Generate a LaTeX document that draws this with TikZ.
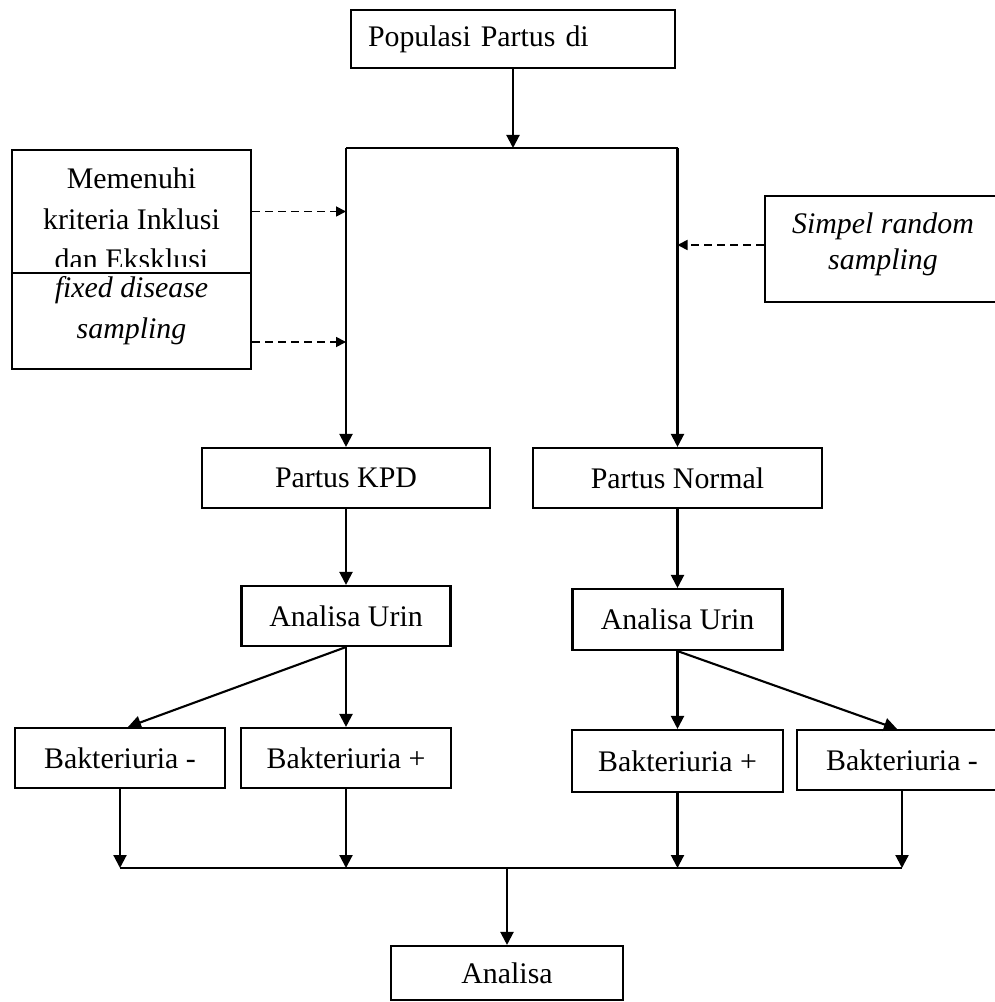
\documentclass[tikz,border=0pt]{standalone}
\usepackage{fontspec}
\setmainfont{Liberation Serif}
\usetikzlibrary{arrows.meta,positioning}
\tikzset{
  fcbox/.style={rectangle, draw=black, line width=1.2pt, fill=white, inner sep=0pt,
                font=\fontsize{17}{20}\selectfont},
  fcside/.style={rectangle, draw=black, line width=1.2pt, fill=white, inner sep=0pt},
  fctext/.style={align=center, inner sep=0pt, anchor=north},
  fcedge/.style={line width=1.2pt, black},
  fcarrow/.style={fcedge, -{Triangle[length=2.6mm, width=2.6mm]}},
  fcdash/.style={line width=1pt, dash pattern=on 1.6mm off 1mm,
                 -{Triangle[length=2mm, width=2mm]}},
}
\begin{document}
\begin{tikzpicture}
  \useasboundingbox (0,0) rectangle (19.9,-20.04);
  % top
  \node[fcbox, minimum width=6.48cm, minimum height=1.16cm, inner xsep=0.34cm,
        text width=5.8cm, align=left] (pop) at (10.26,-0.78) {Populasi Partus di};
  \coordinate (split) at (10.26,-2.96);
  \node[fcbox, minimum width=5.76cm, minimum height=1.2cm] (kpd)    at (6.92,-9.56)  {Partus KPD};
  \node[fcbox, minimum width=5.78cm, minimum height=1.2cm] (normal) at (13.55,-9.56) {Partus Normal};
  \draw[fcarrow] (pop) -- (split);
  \draw[fcedge]  (kpd.north |- split) -- (normal.north |- split);
  \draw[fcarrow] (kpd.north |- split) -- (kpd);
  \draw[fcarrow] (normal.north |- split) -- (normal);
  % side boxes
  \node[fcside, minimum width=4.78cm, minimum height=2.46cm] (inkl) at (2.63,-4.23) {};
  \begin{scope}
    \clip (inkl.north west) rectangle ([yshift=0.16cm]inkl.south east);
    \node[fctext, font=\fontsize{17}{23.3}\selectfont] (inkltext) at (2.63,-3.34)
      {Memenuhi\\kriteria Inklusi\\dan Eksklusi};
  \end{scope}
  \node[fcside, minimum width=4.78cm, minimum height=1.92cm] (fixed) at (2.63,-6.42) {};
  \node[fctext, font=\itshape\fontsize{17}{23.3}\selectfont] (fixedtext) at (2.63,-5.52)
    {fixed disease\\sampling};
  \node[fcside, minimum width=4.72cm, minimum height=2.12cm] (simpel) at (17.66,-4.98) {};
  \node[fctext, font=\itshape\fontsize{17}{21}\selectfont] (simpeltext) at (17.66,-4.24)
    {Simpel random\\sampling};
  \coordinate (fixedout)  at ([yshift=-0.42cm]fixed.east);
  \coordinate (simpelout) at ([yshift=0.08cm]simpel.west);
  \draw[fcdash] (inkl.east) -- (inkl.east -| kpd.north);
  \draw[fcdash] (fixedout) -- (fixedout -| kpd.north);
  \draw[fcdash] (simpelout) -- (simpelout -| normal.north);
  % analysis
  \node[fcbox, minimum width=4.18cm, minimum height=1.2cm]  (urinL)   at (6.92,-12.32)  {Analisa Urin};
  \node[fcbox, minimum width=4.2cm,  minimum height=1.22cm] (urinR)   at (13.55,-12.39) {Analisa Urin};
  \node[fcbox, minimum width=4.2cm,  minimum height=1.2cm]  (bakLneg) at (2.4,-15.16)   {Bakteriuria -};
  \node[fcbox, minimum width=4.2cm,  minimum height=1.2cm]  (bakLpos) at (6.92,-15.16)  {Bakteriuria +};
  \node[fcbox, minimum width=4.22cm, minimum height=1.24cm] (bakRpos) at (13.55,-15.22) {Bakteriuria +};
  \node[fcbox, minimum width=4.2cm,  minimum height=1.2cm]  (bakRneg) at (18.04,-15.2)  {Bakteriuria -};
  \node[fcbox, minimum width=4.64cm, minimum height=1.08cm] (ana)     at (10.14,-19.46) {Analisa};
  \coordinate (bar) at (10.14,-17.36);
  \draw[fcarrow] (kpd) -- (urinL);
  \draw[fcarrow] (normal) -- (urinR);
  \draw[fcarrow] (urinL.south) -- ([xshift=0.16cm]bakLneg.north);
  \draw[fcarrow] (urinL) -- (bakLpos);
  \draw[fcarrow] (urinR) -- (bakRpos);
  \draw[fcarrow] (urinR.south) -- ([xshift=-0.1cm]bakRneg.north);
  \draw[fcarrow] (bakLneg) -- (bakLneg |- bar);
  \draw[fcarrow] (bakLpos) -- (bakLpos |- bar);
  \draw[fcarrow] (bakRpos) -- (bakRpos |- bar);
  \draw[fcarrow] (bakRneg) -- (bakRneg |- bar);
  \draw[fcedge]  (bakLneg |- bar) -- (bakRneg |- bar);
  \draw[fcarrow] (bar) -- (ana);
\end{tikzpicture}
\end{document}
